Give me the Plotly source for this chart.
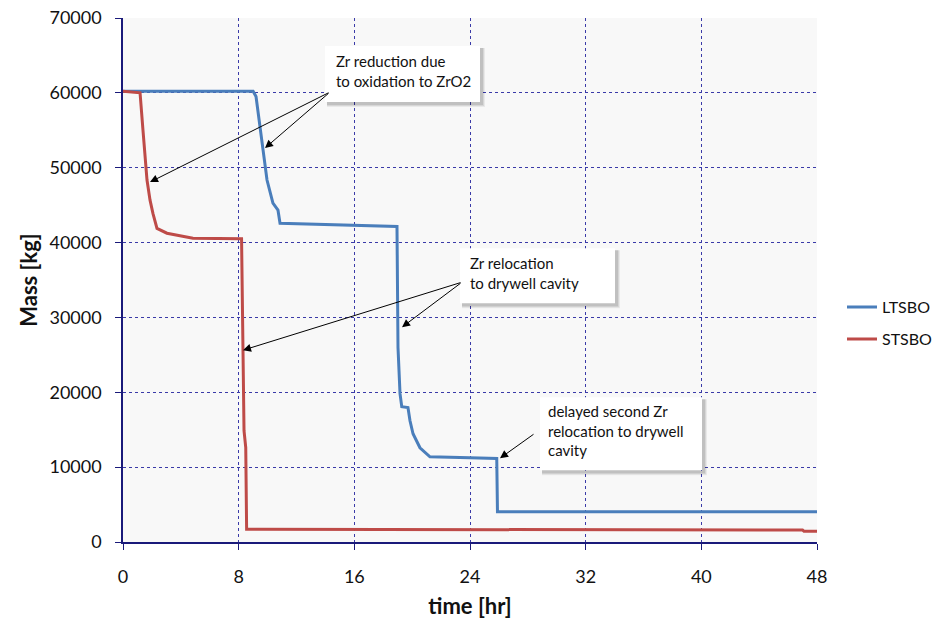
import plotly.graph_objects as go

# ---- data ----
lt_time = [0, 9.0, 9.2, 9.47, 9.68, 9.96, 10.37, 10.72, 10.86, 13.42, 15.22, 18.95,
           19.02, 19.16, 19.28, 19.71, 19.85, 20.06, 20.54, 21.23, 24.0, 25.85, 25.9, 48]
lt_mass = [60200, 60200, 59500, 55440, 52760, 48350, 45260, 44330, 42590, 42450, 42320, 42150,
           25980, 19820, 18080, 17950, 16200, 14460, 12590, 11380, 11250, 11150, 4050, 4050]

st_time = [0, 1.18, 1.38, 1.66, 1.87, 2.07, 2.35, 3.04, 4.84, 8.09, 8.2, 8.3, 8.37, 8.49,
           8.55, 47.0, 47.1, 48]
st_mass = [60200, 60000, 55040, 48350, 45670, 43900, 41900, 41250, 40580, 40580, 40500,
           25580, 14870, 12600, 1700, 1600, 1450, 1450]

x_ticks = [0, 8, 16, 24, 32, 40, 48]
y_ticks = [0, 10000, 20000, 30000, 40000, 50000, 60000, 70000]

callouts = [
    "Zr reduction due<br>to oxidation to ZrO2",
    "Zr relocation<br>to drywell cavity",
    "delayed second Zr<br>relocation to drywell<br>cavity",
]

# ---- layout helpers (pixel -> paper) ----
W, H = 934, 631
L, R, T, B = 123, 817, 18, 541.7


def px(xp):
    return (xp - L) / (R - L)


def py(yp):
    return (B - yp) / (B - T)


def dx(xp):
    return (xp - L) / (R - L) * 48


def dy(yp):
    return (B - yp) / (B - T) * 70000


FONT = "Lato, 'Open Sans', sans-serif"

fig = go.Figure()
fig.add_trace(go.Scatter(x=lt_time, y=lt_mass, mode="lines", name="LTSBO", showlegend=True,
                         line=dict(color="#4A7EBB", width=3), legend="legend"))
fig.add_trace(go.Scatter(x=st_time, y=st_mass, mode="lines", name="STSBO", showlegend=True,
                         line=dict(color="#BE4B48", width=3), legend="legend2"))

shapes = []
boxes = [(325, 46, 480, 102), (460, 248, 615, 303), (540, 397, 702, 470)]
for (x0, y0, x1, y1) in boxes:
    for k, a in [(5, 0.06), (4, 0.08), (3, 0.10)]:
        shapes.append(dict(type="rect", xref="paper", yref="paper",
                           x0=px(x0 + 2), x1=px(x1 + k), y0=py(y1 + k), y1=py(y0 + 2),
                           fillcolor="rgba(0,0,0,%s)" % a, line=dict(width=0), layer="above"))
    shapes.append(dict(type="rect", xref="paper", yref="paper",
                       x0=px(x0), x1=px(x1), y0=py(y1), y1=py(y0),
                       fillcolor="white", line=dict(width=0), layer="above"))

annotations = []
text_pos = [(334, 50), (468, 252), (546, 400)]
for (tx, ty), txt in zip(text_pos, callouts):
    annotations.append(dict(x=px(tx), y=py(ty), xref="paper", yref="paper",
                            text=txt, showarrow=False, xanchor="left", yanchor="top",
                            align="left", font=dict(family=FONT, size=15, color="#111")))

arrows = [
    ((330, 92), (150, 182)),
    ((330, 92), (265, 148)),
    ((462, 282), (402, 327)),
    ((462, 282), (243, 350)),
    ((535, 433), (500, 458)),
]
for (tail, head) in arrows:
    annotations.append(dict(x=dx(head[0]), y=dy(head[1]), xref="x", yref="y",
                            ax=dx(tail[0]), ay=dy(tail[1]), axref="x", ayref="y",
                            text="", showarrow=True, arrowhead=2, arrowsize=1.6,
                            arrowwidth=1, arrowcolor="black", standoff=0))

fig.update_layout(
    width=W, height=H,
    margin=dict(l=L, r=W - R, t=T, b=H - B, autoexpand=False),
    paper_bgcolor="white", plot_bgcolor="#F8F8F8",
    font=dict(family=FONT, size=18, color="#111"),
    showlegend=True,
    shapes=shapes, annotations=annotations,
    legend=dict(x=px(842), y=py(290), xanchor="left", yanchor="top",
                font=dict(family=FONT, size=16, color="#111"), bgcolor="rgba(0,0,0,0)",
                itemwidth=30),
    legend2=dict(x=px(842), y=py(322), xanchor="left", yanchor="top",
                 font=dict(family=FONT, size=16, color="#111"), bgcolor="rgba(0,0,0,0)",
                 itemwidth=30),
    xaxis=dict(range=[0, 48], tickvals=x_ticks, ticktext=[str(v) for v in x_ticks],
               showgrid=True, gridcolor="#3A3AA8", griddash="dot", gridwidth=1,
               showline=True, linecolor="#1A1A7A", linewidth=1.5, mirror=False,
               ticks="outside", ticklen=6, tickcolor="#1A1A7A", ticklabelstandoff=12,
               zeroline=False,
               title=dict(text="<b>time [hr]</b>", font=dict(family=FONT, size=22), standoff=12)),
    yaxis=dict(range=[0, 70000], tickvals=y_ticks, ticktext=[str(v) for v in y_ticks],
               showgrid=True, gridcolor="#3A3AA8", griddash="dot", gridwidth=1,
               showline=True, linecolor="#1A1A7A", linewidth=1.5,
               ticks="outside", ticklen=6, tickcolor="#1A1A7A", ticklabelstandoff=10,
               zeroline=False,
               title=dict(text="<b>Mass [kg]</b>", font=dict(family=FONT, size=22), standoff=6)),
)

fig.write_html("out.html", config={"displayModeBar": False},
               post_script="document.body.style.margin='0';document.body.style.overflow='hidden';")
